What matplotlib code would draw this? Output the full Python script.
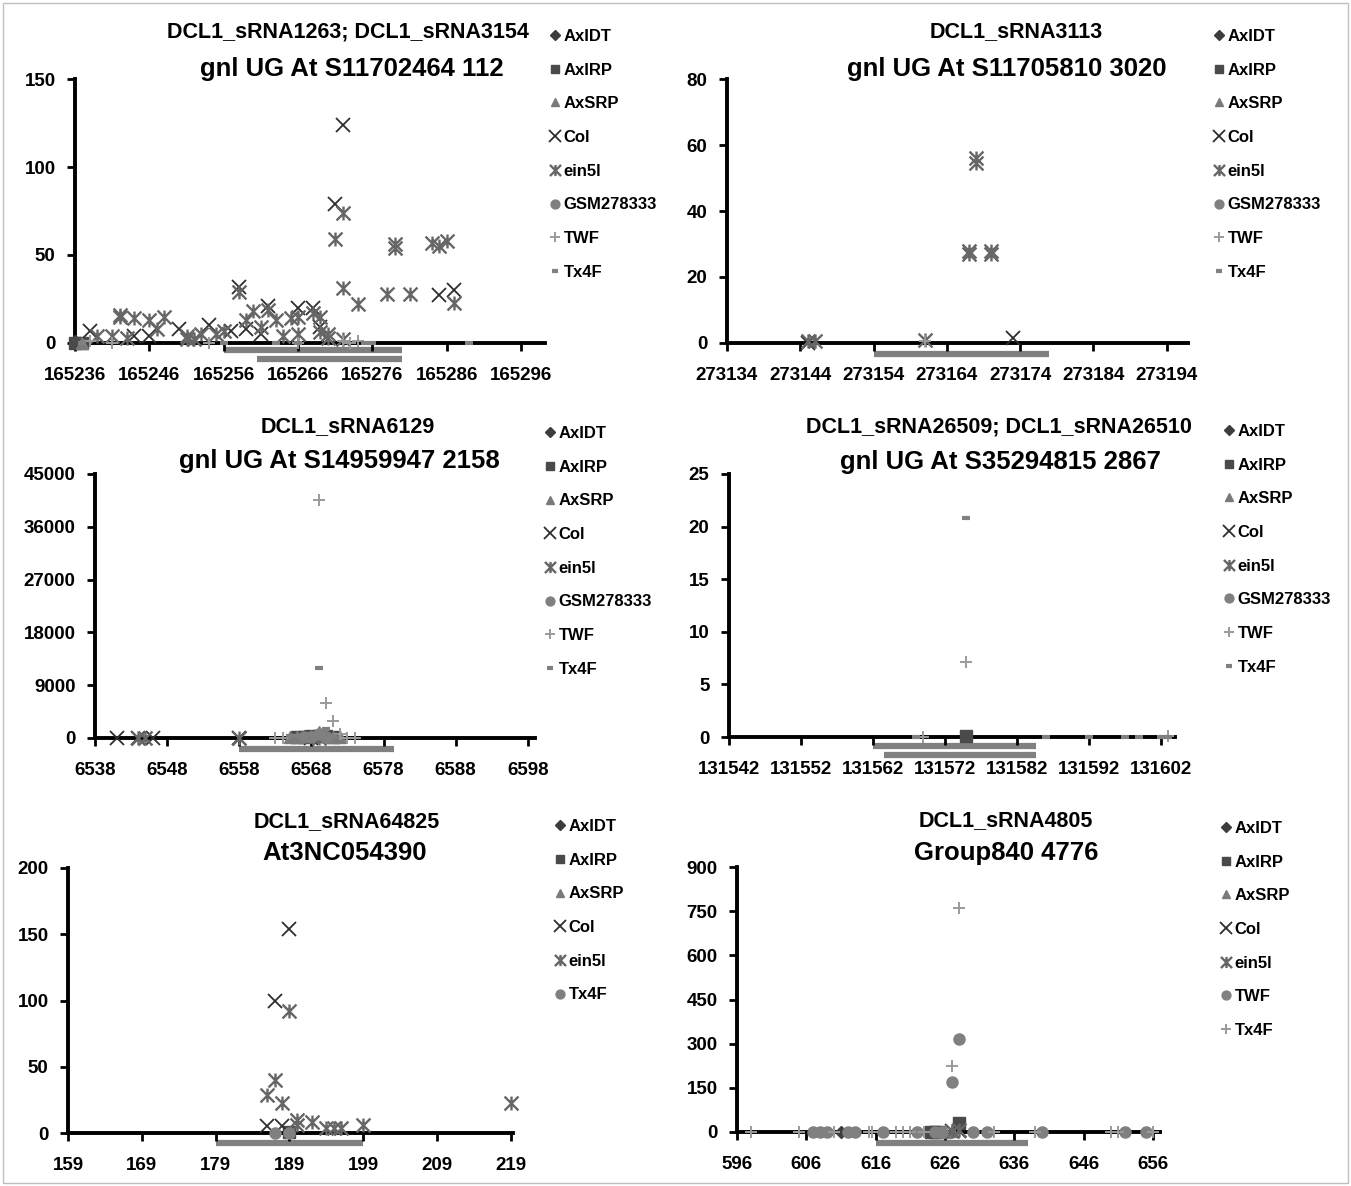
import matplotlib
matplotlib.use('Agg')
import matplotlib.pyplot as plt
from matplotlib.path import Path
from matplotlib.patches import Rectangle
from matplotlib.ticker import ScalarFormatter

W, H = 1351, 1186

# ---- data ----
p1_series = ['AxIDT', 'AxIRP', 'AxSRP', 'Col', 'ein5l', 'GSM278333', 'TWF', 'Tx4F']
p1_axidt_x = [165236]
p1_axidt_y = [1]
p1_axirp_x = [165236, 165237]
p1_axirp_y = [0, 0]
p1_axsrp_x = [165237]
p1_axsrp_y = [0]
p1_col_x = [165238, 165244, 165246, 165250, 165254, 165257, 165258, 165259, 165261,
            165262, 165266, 165268, 165269, 165271, 165272, 165285, 165287]
p1_col_y = [7, 4, 4, 8, 10, 7, 32, 8, 5, 21, 20, 20, 9, 79, 124, 27, 30]
p1_ein_x = [165239, 165241, 165242, 165242, 165243, 165244, 165246, 165247, 165248,
            165251, 165251, 165252, 165253, 165255, 165256, 165258, 165259, 165260,
            165261, 165262, 165263, 165264, 165265, 165266, 165266, 165268, 165269,
            165269, 165270, 165270, 165271, 165272, 165272, 165272, 165274, 165278,
            165279, 165279, 165281, 165284, 165285, 165286, 165287]
p1_ein_y = [4, 4, 15, 16, 3, 14, 13, 8, 15, 4, 2, 2, 5, 5, 7, 29, 13, 18, 9, 19, 13,
            4, 14, 15, 5, 17, 15, 6, 5, 3, 59, 74, 31, 2, 22, 28, 56, 54, 28, 57, 55, 58, 23]
p1_gsm_x = []
p1_gsm_y = []
p1_twf_x = [165238, 165241, 165254, 165266, 165272, 165273, 165274]
p1_twf_y = [1, 0, 0, 0, 1, 0, 1]
p1_tx4f_x = [165237, 165256, 165263, 165266, 165275, 165276, 165289]
p1_tx4f_y = [0, 0, 0, 0, 0, 0, 0]
p1_bars = [(165256, 165280), (165260.5, 165280)]

p2_series = ['AxIDT', 'AxIRP', 'AxSRP', 'Col', 'ein5l', 'GSM278333', 'TWF', 'Tx4F']
p2_col_x = [273145, 273173]
p2_col_y = [0, 1.5]
p2_ein_x = [273145, 273146, 273161, 273167, 273167, 273168, 273168, 273170, 273170]
p2_ein_y = [0.5, 0.5, 1, 28, 27, 56, 54.5, 28, 27]
p2_twf_x = [273161]
p2_twf_y = [0.5]
p2_bars = [(273154, 273178)]

p3_series = ['AxIDT', 'AxIRP', 'AxSRP', 'Col', 'ein5l', 'GSM278333', 'TWF', 'Tx4F']
p3_axidt_x = [6569]
p3_axidt_y = [300]
p3_axirp_x = [6566, 6567, 6568, 6569, 6570, 6571]
p3_axirp_y = [150, 200, 300, 400, 300, 200]
p3_axsrp_x = [6565, 6566, 6567, 6568, 6569, 6570, 6571, 6572]
p3_axsrp_y = [100, 200, 300, 400, 1100, 400, 250, 100]
p3_col_x = [6541, 6544, 6546, 6558, 6568]
p3_col_y = [0, 0, 0, 0, 0]
p3_ein_x = [6544, 6545, 6558, 6569]
p3_ein_y = [0, 0, 0, 0]
p3_gsm_x = [6567, 6568, 6569, 6570]
p3_gsm_y = [150, 200, 600, 250]
p3_twf_x = [6563, 6564, 6569, 6570, 6571, 6572, 6573, 6574]
p3_twf_y = [0, 0, 40500, 6000, 2900, 700, 0, 0]
p3_tx4f_x = [6565, 6566, 6567, 6568, 6569, 6570, 6571]
p3_tx4f_y = [300, 400, 300, 500, 12000, 1600, 300]
p3_bars = [(6558, 6579.5)]

p4_series = ['AxIDT', 'AxIRP', 'AxSRP', 'Col', 'ein5l', 'GSM278333', 'TWF', 'Tx4F']
p4_axirp_x = [131575]
p4_axirp_y = [0.1]
p4_twf_x = [131569, 131575, 131603]
p4_twf_y = [0, 7.1, 0.1]
p4_tx4f_x = [131568, 131575, 131586, 131592, 131597, 131599, 131602, 131603]
p4_tx4f_y = [0, 20.8, 0, 0, 0, 0, 0, 0]
p4_bars = [(131562, 131584.7), (131563.5, 131584.7)]

p5_series = ['AxIDT', 'AxIRP', 'AxSRP', 'Col', 'ein5l', 'Tx4F']
p5_axirp_x = [189]
p5_axirp_y = [0.5]
p5_col_x = [186, 187, 188, 189]
p5_col_y = [5, 100, 5, 154]
p5_ein_x = [186, 187, 188, 189, 190, 190, 192, 194, 195, 196, 199, 219]
p5_ein_y = [29, 40, 23, 92, 10, 6, 8, 4, 4, 4, 6, 23]
p5_tx4f_x = [187, 189]
p5_tx4f_y = [0, 0]
p5_bars = [(179, 199)]

p6_series = ['AxIDT', 'AxIRP', 'AxSRP', 'Col', 'ein5l', 'TWF', 'Tx4F']
p6_axidt_x = [611]
p6_axidt_y = [0]
p6_axirp_x = [624, 624.5, 625, 628]
p6_axirp_y = [0, 0, 0, 30]
p6_axsrp_x = [626, 627]
p6_axsrp_y = [0, 5]
p6_col_x = [627, 628]
p6_col_y = [3, 3]
p6_ein_x = [627, 628]
p6_ein_y = [5, 8]
p6_twf_x = [607, 608, 609, 612, 613, 617, 622, 624.5, 625.5, 627, 628, 630, 632, 640, 652, 655]
p6_twf_y = [0, 0, 0, 0, 0, 0, 0, 0, 0, 170, 315, 0, 0, 0, 0, 0]
p6_tx4f_x = [598, 605, 610, 615, 615.5, 619, 620, 621, 623, 627, 628, 633, 639, 650, 651, 656]
p6_tx4f_y = [0, 0, 0, 0, 0, 0, 0, 0, 0, 225, 760, 0, 0, 0, 0, 0]
p6_bars = [(616, 638)]

titles = [
    ('DCL1_sRNA1263; DCL1_sRNA3154', 'gnl UG At S11702464 112'),
    ('DCL1_sRNA3113', 'gnl UG At S11705810 3020'),
    ('DCL1_sRNA6129', 'gnl UG At S14959947 2158'),
    ('DCL1_sRNA26509; DCL1_sRNA26510', 'gnl UG At S35294815 2867'),
    ('DCL1_sRNA64825', 'At3NC054390'),
    ('DCL1_sRNA4805', 'Group840 4776'),
]

# ---- styles (Excel-like marker cycle by series order) ----
star = Path([(-1, -1), (1, 1), (-1, 1), (1, -1), (0, -1), (0, 1)],
            [Path.MOVETO, Path.LINETO, Path.MOVETO, Path.LINETO, Path.MOVETO, Path.LINETO])
styles = [
    dict(marker='D', color='#3c3c3c', markersize=6),
    dict(marker='s', color='#4a4a4a', markersize=8),
    dict(marker='^', color='#7a7a7a', markersize=8),
    dict(marker='x', color='#2e2e2e', markersize=10, markeredgewidth=1.3),
    dict(marker=star, color='#666666', markersize=10, markeredgewidth=1.7),
    dict(marker='o', color='#808080', markersize=8),
    dict(marker='+', color='#9a9a9a', markersize=9, markeredgewidth=1.4),
    dict(marker='_', color='#808080', markersize=6, markeredgewidth=3),
]

plt.rcParams['font.family'] = ['Liberation Sans', 'DejaVu Sans']

fig = plt.figure(figsize=(W / 100, H / 100), dpi=100)
fig.patches.append(Rectangle((3 / W, 3 / H), 1 - 6 / W, 1 - 6 / H, transform=fig.transFigure,
                             fill=False, edgecolor='#c0c0c0', linewidth=1))


def add_axes(left, right, top, bottom):
    return fig.add_axes([left / W, 1 - bottom / H, (right - left) / W, (bottom - top) / H])


panels = [
    dict(box=(75, 545, 79, 343), xlim=(165236, 165299.2), xticks=range(165236, 165297, 10),
         ylim=(0, 150), yticks=range(0, 151, 50), series=p1_series,
         data=[(p1_axidt_x, p1_axidt_y), (p1_axirp_x, p1_axirp_y), (p1_axsrp_x, p1_axsrp_y),
               (p1_col_x, p1_col_y), (p1_ein_x, p1_ein_y), (p1_gsm_x, p1_gsm_y),
               (p1_twf_x, p1_twf_y), (p1_tx4f_x, p1_tx4f_y)],
         bars=p1_bars, bar_y=[-0.027, -0.061], leg=(548, 29), t1=(348, 32), t2=(352, 69)),
    dict(box=(727, 1188, 79, 343), xlim=(273134, 273196.9), xticks=range(273134, 273195, 10),
         ylim=(0, 80), yticks=range(0, 81, 20), series=p2_series,
         data=[([], []), ([], []), ([], []), (p2_col_x, p2_col_y), (p2_ein_x, p2_ein_y),
               ([], []), (p2_twf_x, p2_twf_y), ([], [])],
         bars=p2_bars, bar_y=[-0.042], leg=(1212, 29), t1=(1016, 32), t2=(1007, 69)),
    dict(box=(95, 535, 474, 738), xlim=(6538, 6599), xticks=range(6538, 6599, 10),
         ylim=(0, 45000), yticks=range(0, 45001, 9000), series=p3_series,
         data=[(p3_axidt_x, p3_axidt_y), (p3_axirp_x, p3_axirp_y), (p3_axsrp_x, p3_axsrp_y),
               (p3_col_x, p3_col_y), (p3_ein_x, p3_ein_y), (p3_gsm_x, p3_gsm_y),
               (p3_twf_x, p3_twf_y), (p3_tx4f_x, p3_tx4f_y)],
         bars=p3_bars, bar_y=[-0.042], leg=(543, 426), t1=(348, 427), t2=(339, 461)),
    dict(box=(729, 1175, 474, 737), xlim=(131542, 131604), xticks=range(131542, 131603, 10),
         ylim=(0, 25), yticks=range(0, 26, 5), series=p4_series,
         data=[([], []), (p4_axirp_x, p4_axirp_y), ([], []), ([], []), ([], []), ([], []),
               (p4_twf_x, p4_twf_y), (p4_tx4f_x, p4_tx4f_y)],
         bars=p4_bars, bar_y=[-0.034, -0.068], leg=(1222, 424), t1=(999, 427), t2=(1000, 462)),
    dict(box=(68, 513, 868, 1133), xlim=(159, 219.3), xticks=range(159, 220, 10),
         ylim=(0, 200), yticks=range(0, 201, 50), series=p5_series,
         data=[([], []), (p5_axirp_x, p5_axirp_y), ([], []), (p5_col_x, p5_col_y),
               (p5_ein_x, p5_ein_y), (p5_tx4f_x, p5_tx4f_y)],
         bars=p5_bars, bar_y=[-0.038], leg=(553, 819), t1=(347, 822), t2=(345, 853)),
    dict(box=(737, 1160, 867, 1132), xlim=(596, 657), xticks=range(596, 657, 10),
         ylim=(0, 900), yticks=range(0, 901, 150), series=p6_series,
         data=[(p6_axidt_x, p6_axidt_y), (p6_axirp_x, p6_axirp_y), (p6_axsrp_x, p6_axsrp_y),
               (p6_col_x, p6_col_y), (p6_ein_x, p6_ein_y), (p6_twf_x, p6_twf_y),
               (p6_tx4f_x, p6_tx4f_y)],
         bars=p6_bars, bar_y=[-0.042], leg=(1219, 821), t1=(1006, 821), t2=(1006, 853)),
]

for p, (t1, t2) in zip(panels, titles):
    ax = add_axes(*p['box'])
    for i, (name, (xs, ys)) in enumerate(zip(p['series'], p['data'])):
        st = dict(styles[i])
        c = st.pop('color')
        ax.plot(xs, ys, linestyle='none', color=c, markerfacecolor=c, markeredgecolor=c,
                label=name, clip_on=False, zorder=3, **st)

    # sRNA position bars under the axis
    for (x0, x1), yb in zip(p['bars'], p['bar_y']):
        ax.hlines(yb, x0, x1, transform=ax.get_xaxis_transform(), color='#808080',
                  linewidth=4.5, clip_on=False, zorder=1)

    ax.set_xlim(*p['xlim'])
    ax.set_ylim(*p['ylim'])
    ax.set_xticks(list(p['xticks']))
    ax.set_yticks(list(p['yticks']))
    ax.xaxis.set_major_formatter(ScalarFormatter(useOffset=False))
    for s in ['top', 'right']:
        ax.spines[s].set_visible(False)
    for s in ['left', 'bottom']:
        ax.spines[s].set_linewidth(2.8)
        ax.spines[s].set_color('black')
    ax.tick_params(direction='out', length=6, width=2, labelsize=13.5)
    ax.tick_params(axis='x', pad=11)
    ax.tick_params(axis='y', pad=8)
    for lbl in ax.get_xticklabels() + ax.get_yticklabels():
        lbl.set_fontweight('bold')
    ax.patch.set_alpha(0)

    lx, ly = p['leg']
    leg = ax.legend(loc='upper left', bbox_to_anchor=(lx / W, 1 - ly / H),
                    bbox_transform=fig.transFigure, frameon=False, numpoints=1,
                    fontsize=12, labelspacing=1.12, handlelength=0.8, handletextpad=0.15,
                    borderpad=0, borderaxespad=0, markerscale=0.8)
    for txt in leg.get_texts():
        txt.set_fontweight('bold')

    fig.text(p['t1'][0] / W, 1 - p['t1'][1] / H, t1, ha='center', va='center',
             fontsize=15.5, fontweight='bold')
    fig.text(p['t2'][0] / W, 1 - p['t2'][1] / H, t2, ha='center', va='center',
             fontsize=18.5, fontweight='bold')

fig.savefig('out.png', dpi=100)
